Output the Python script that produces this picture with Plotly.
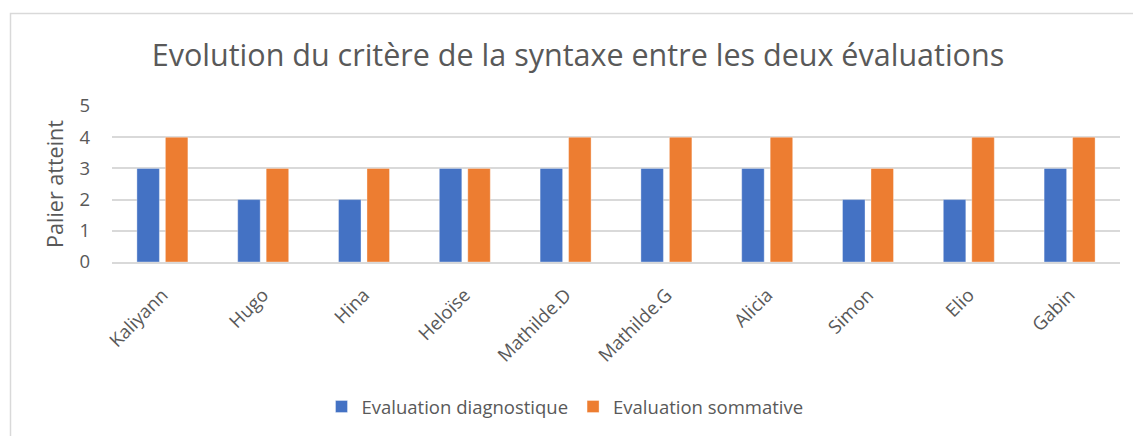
import plotly.graph_objects as go

categories = ["Kaliyann", "Hugo", "Hina", "Heloïse", "Mathilde.D", "Mathilde.G",
              "Alicia", "Simon", "Elio", "Gabin"]
diagnostique = [3, 2, 2, 3, 3, 3, 3, 2, 2, 3]
sommative = [4, 3, 3, 3, 4, 4, 4, 3, 4, 4]
y_ticks = [0, 1, 2, 3, 4, 5]

W, H = 1133, 436
L, R, T, B = 112, 13, 106, 174
pw, ph = W - L - R, H - T - B

font = "Open Sans"
grey = "#595959"

fig = go.Figure()
fig.add_trace(go.Bar(x=categories, y=diagnostique, name="Evaluation diagnostique",
                     marker=dict(color="#4472C4", line=dict(color="rgba(255,255,255,0.35)", width=1))))
fig.add_trace(go.Bar(x=categories, y=sommative, name="Evaluation sommative",
                     marker=dict(color="#ED7D31", line=dict(color="rgba(255,255,255,0.35)", width=1))))

# chart border (right and bottom edges fall outside the picture)
x0 = (10.5 - L) / pw
x1 = (1150 - L) / pw
y1 = (H - B - 13.5) / ph
y0 = (H - B - 460) / ph
fig.add_shape(type="rect", xref="paper", yref="paper", x0=x0, x1=x1, y0=y0, y1=y1,
              line=dict(color="#D9D9D9", width=1.5), fillcolor="rgba(0,0,0,0)", layer="below")

fig.update_layout(
    width=W, height=H,
    margin=dict(l=L, r=R, t=T, b=B, autoexpand=False),
    paper_bgcolor="white", plot_bgcolor="white",
    barmode="group", bargap=0.435, bargroupgap=0.21,
    font=dict(family=font, color=grey),
    title=dict(text="Evolution du critère de la syntaxe entre les deux évaluations",
               x=(578 - L) / pw, xref="paper", xanchor="center", y=1 - 55 / H, yanchor="middle",
               font=dict(size=30.5, color=grey, family=font), automargin=False),
    xaxis=dict(tickangle=-45, tickfont=dict(size=18.5, color=grey), showgrid=False,
               showline=True, linecolor="#D9D9D9", linewidth=2, ticks="",
               ticklabelstandoff=13, automargin=False),
    yaxis=dict(range=[0, 5], tickvals=y_ticks, tickfont=dict(size=18.5, color=grey),
               gridcolor="#D9D9D9", gridwidth=1.5, zeroline=False, ticks="",
               ticklabelstandoff=21, automargin=False,
               title=dict(text="Palier atteint", font=dict(size=21.5, color=grey), standoff=9)),
    legend=dict(orientation="h", x=(565 - L) / pw, xanchor="center", xref="paper",
                y=-(407 - (H - B)) / ph, yanchor="middle",
                font=dict(size=18.5, color=grey), itemwidth=30, traceorder="normal"),
)

fig.write_html("out.html", config={"displayModeBar": False},
               post_script="document.body.style.margin='0';document.body.style.overflow='hidden';")
